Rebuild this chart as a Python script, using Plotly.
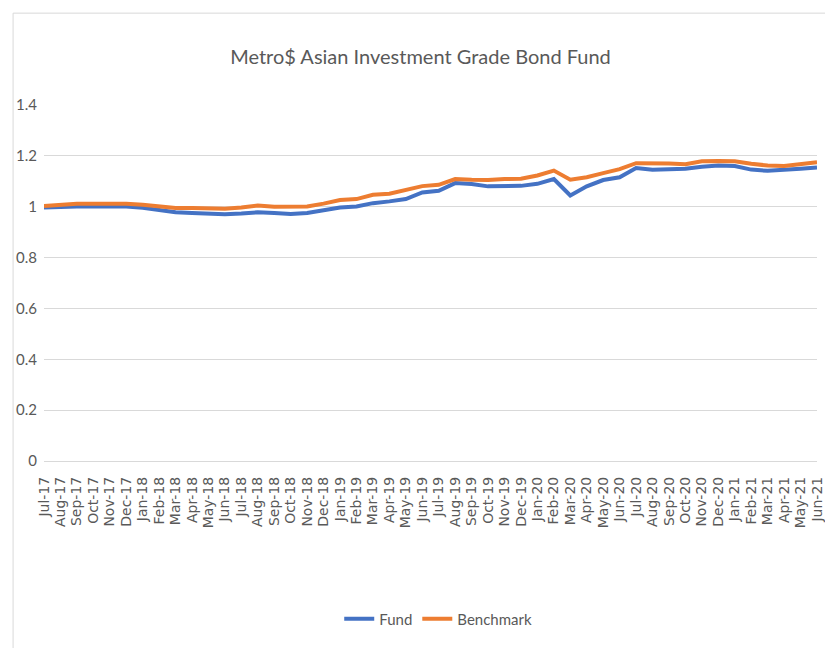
import plotly.graph_objects as go

months = ["Jul-17", "Aug-17", "Sep-17", "Oct-17", "Nov-17", "Dec-17",
          "Jan-18", "Feb-18", "Mar-18", "Apr-18", "May-18", "Jun-18",
          "Jul-18", "Aug-18", "Sep-18", "Oct-18", "Nov-18", "Dec-18",
          "Jan-19", "Feb-19", "Mar-19", "Apr-19", "May-19", "Jun-19",
          "Jul-19", "Aug-19", "Sep-19", "Oct-19", "Nov-19", "Dec-19",
          "Jan-20", "Feb-20", "Mar-20", "Apr-20", "May-20", "Jun-20",
          "Jul-20", "Aug-20", "Sep-20", "Oct-20", "Nov-20", "Dec-20",
          "Jan-21", "Feb-21", "Mar-21", "Apr-21", "May-21", "Jun-21"]

fund = [0.997, 1.000, 1.001, 1.001, 1.001, 1.001,
        0.996, 0.986, 0.978, 0.975, 0.974, 0.970,
        0.973, 0.978, 0.975, 0.971, 0.975, 0.986,
        0.997, 1.001, 1.014, 1.021, 1.030, 1.056,
        1.063, 1.093, 1.089, 1.080, 1.080, 1.082,
        1.090, 1.109, 1.044, 1.080, 1.105, 1.116,
        1.152, 1.145, 1.147, 1.149, 1.157, 1.162,
        1.160, 1.146, 1.141, 1.144, 1.149, 1.154]

benchmark = [1.003, 1.008, 1.012, 1.012, 1.012, 1.012,
             1.008, 1.002, 0.995, 0.995, 0.995, 0.992,
             0.997, 1.005, 1.000, 0.999, 1.001, 1.012,
             1.026, 1.030, 1.047, 1.051, 1.067, 1.081,
             1.086, 1.109, 1.106, 1.105, 1.109, 1.110,
             1.123, 1.142, 1.106, 1.116, 1.132, 1.148,
             1.171, 1.171, 1.170, 1.167, 1.179, 1.180,
             1.179, 1.169, 1.162, 1.160, 1.167, 1.175]

y_ticks = [0, 0.2, 0.4, 0.6, 0.8, 1.0, 1.2, 1.4]
y_tick_text = ["0", "0.2", "0.4", "0.6", "0.8", "1", "1.2", "1.4"]

narrow = "Lato, Liberation Sans, Arial, sans-serif"
grey = "#595959"

fig = go.Figure()
fig.add_trace(go.Scatter(x=months, y=fund, name="Fund", mode="lines",
                         line=dict(color="#4472C4", width=4)))
fig.add_trace(go.Scatter(x=months, y=benchmark, name="Benchmark", mode="lines",
                         line=dict(color="#ED7D31", width=4)))

fig.update_layout(
    width=825, height=640,
    margin=dict(l=35, r=8, t=97, b=187),
    paper_bgcolor="white", plot_bgcolor="white",
    title=dict(text="Metro$ Asian Investment Grade Bond Fund",
               x=0.5, xanchor="center", y=0.923, yanchor="middle",
               font=dict(family=narrow, size=20, color=grey)),
    showlegend=True,
    legend=dict(orientation="h", x=0.51, xanchor="center", y=-0.444, yanchor="middle",
                font=dict(family=narrow, size=15, color=grey),
                itemwidth=30, bgcolor="rgba(0,0,0,0)"),
    xaxis=dict(type="category", range=[0, len(months) - 1],
               tickangle=-90, tickfont=dict(family="DejaVu Sans", size=14, color=grey),
               showgrid=False, showline=False, zeroline=False, ticks="",
               tickmode="array", tickvals=months, ticktext=months,
               ticklabelstandoff=12),
    yaxis=dict(range=[0, 1.4], tickvals=y_ticks, ticktext=y_tick_text,
               tickfont=dict(family=narrow, size=15, color=grey),
               showgrid=True, gridcolor="#D9D9D9", gridwidth=1,
               zeroline=True, zerolinecolor="#D9D9D9", zerolinewidth=1,
               showline=False, ticks="", ticklabelstandoff=6),
    shapes=[dict(type="rect", xref="paper", yref="paper",
                 x0=-0.04, x1=1.03, y0=-0.54, y1=1.258,
                 line=dict(color="#D9D9D9", width=1), fillcolor="rgba(0,0,0,0)",
                 layer="below")],
)

fig.write_html("out.html")
